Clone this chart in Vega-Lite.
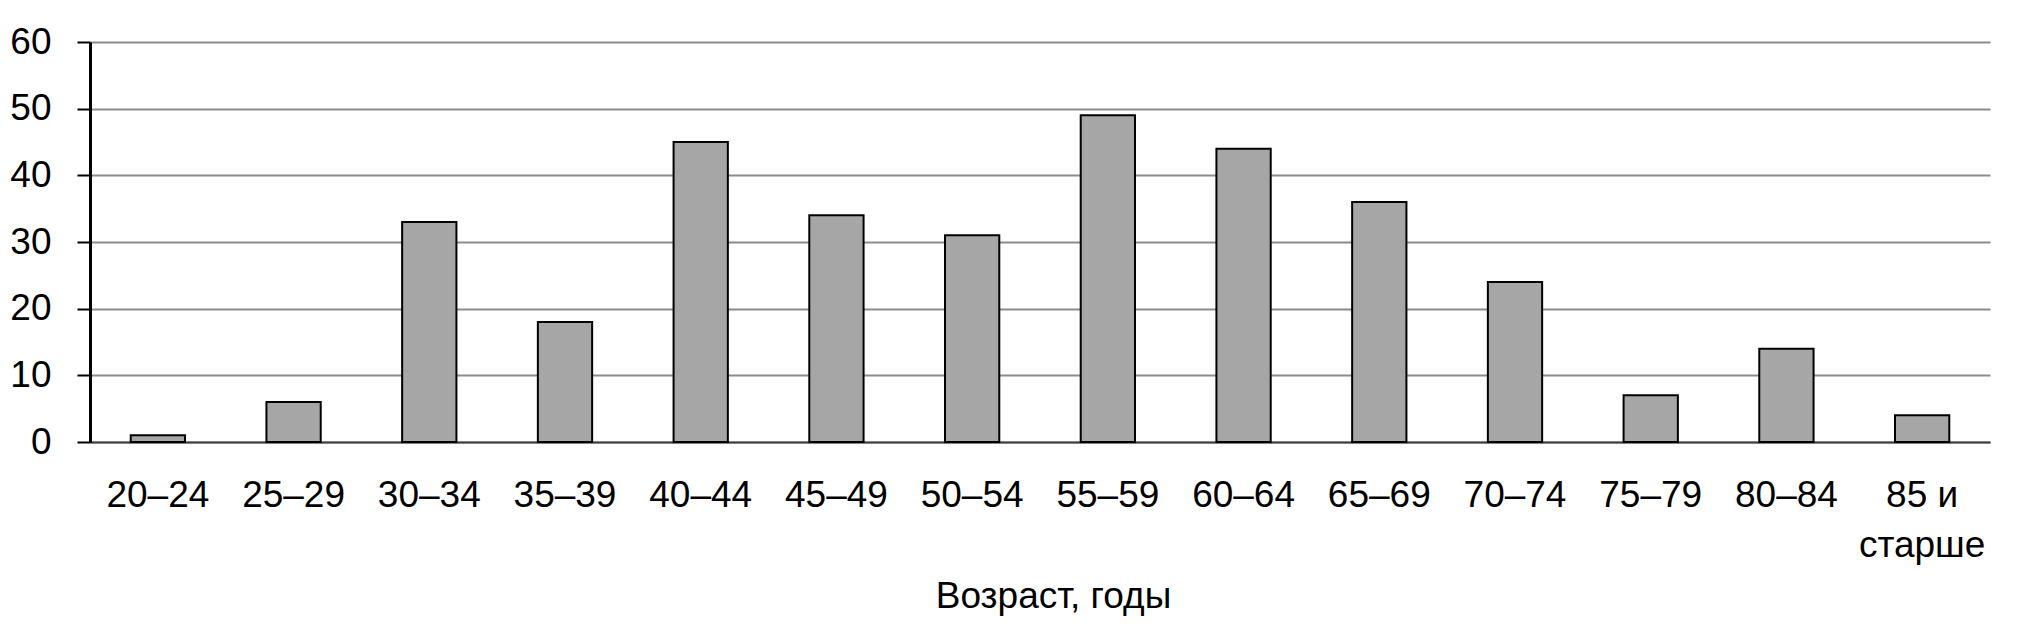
{
  "$schema": "https://vega.github.io/schema/vega-lite/v6.json",
  "width": 1900,
  "height": 400,
  "autosize": {"type": "none"},
  "padding": {"left": 90, "top": 42, "right": 30, "bottom": 194},
  "background": "white",
  "config": {"view": {"stroke": null}, "font": "Liberation Sans"},
  "data": {"values": [
    {"age": "20–24", "n": 1},
    {"age": "25–29", "n": 6},
    {"age": "30–34", "n": 33},
    {"age": "35–39", "n": 18},
    {"age": "40–44", "n": 45},
    {"age": "45–49", "n": 34},
    {"age": "50–54", "n": 31},
    {"age": "55–59", "n": 49},
    {"age": "60–64", "n": 44},
    {"age": "65–69", "n": 36},
    {"age": "70–74", "n": 24},
    {"age": "75–79", "n": 7},
    {"age": "80–84", "n": 14},
    {"age": "85 и старше", "n": 4}
  ]},
  "mark": {"type": "bar", "fill": "#a6a6a6", "stroke": "#000000", "strokeWidth": 2},
  "encoding": {
    "x": {
      "field": "age", "type": "nominal", "sort": null,
      "scale": {"paddingInner": 0.6, "paddingOuter": 0.3},
      "axis": {
        "title": "Возраст, годы", "titleFont": "Liberation Sans", "titleFontSize": 37, "titleFontWeight": "normal", "titleColor": "#000", "titlePadding": 15, "titleX": 963,
        "labelAngle": 0, "labelFontSize": 37, "labelColor": "#000", "labelPadding": 35, "labelLineHeight": 50,
        "labelExpr": "datum.label == '85 и старше' ? ['85 и', 'старше'] : datum.label",
        "ticks": false, "domainColor": "#404040", "domainWidth": 2, "grid": false
      }
    },
    "y": {
      "field": "n", "type": "quantitative",
      "scale": {"domain": [0, 60], "nice": false},
      "axis": {
        "title": null, "values": [0, 10, 20, 30, 40, 50, 60],
        "labelFontSize": 37, "labelColor": "#000", "labelPadding": 26,
        "tickSize": 13, "tickColor": "#000", "tickWidth": 2,
        "domainColor": "#000", "domainWidth": 3,
        "grid": true, "gridColor": "#8c8c8c", "gridWidth": 2
      }
    }
  }
}
